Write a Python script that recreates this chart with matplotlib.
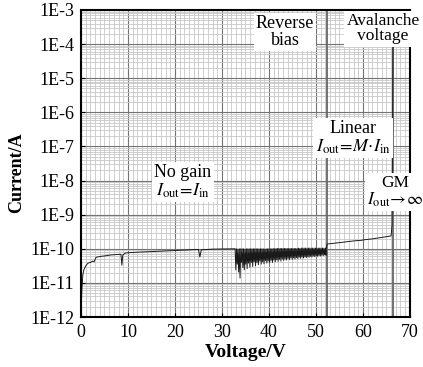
import numpy as np
import matplotlib
matplotlib.use("Agg")
import matplotlib.pyplot as plt
from matplotlib.ticker import FixedLocator, MultipleLocator, LogLocator, NullFormatter

plt.rcParams['font.family'] = ['Liberation Serif', 'DejaVu Serif']
plt.rcParams['mathtext.fontset'] = 'stix'

# I-V curve, current stored as log10(I / A)
base_v = [0.0, 0.1, 0.2, 0.4, 0.6, 1.0, 1.5, 2.0, 2.5, 2.8, 3.2, 3.6, 4.3, 5.0, 6.4,
          7.5, 8.5, 8.7, 8.9, 9.5, 12.0, 16.8, 20.0, 25.0, 25.3, 25.6, 28.0, 31.7, 32.7]
base_exp = [-12.0, -11.5, -11.15, -10.75, -10.62, -10.5, -10.42, -10.40, -10.36, -10.38,
            -10.25, -10.24, -10.22, -10.21, -10.18, -10.17, -10.16, -10.48, -10.18, -10.12,
            -10.10, -10.07, -10.05, -10.02, -10.24, -10.03, -10.01, -10.0, -10.0]

# noisy part between 33 V and 52 V
spike_v = [32.8, 33.1, 33.4, 33.7, 34.0, 34.3, 34.6, 34.9, 35.2, 35.5, 35.8, 36.1, 36.4,
           36.7, 37.0, 37.3, 37.6, 37.9, 38.2, 38.5, 38.8, 39.1, 39.4, 39.7, 40.0, 40.3,
           40.6, 40.9, 41.2, 41.5, 41.8, 42.1, 42.4, 42.7, 43.0, 43.3, 43.6, 43.9, 44.2,
           44.5, 44.8, 45.1, 45.4, 45.7, 46.0, 46.3, 46.6, 46.9, 47.2, 47.5, 47.8, 48.1,
           48.4, 48.7, 49.0, 49.3, 49.6, 49.9, 50.2, 50.5, 50.8, 51.1, 51.4, 51.7, 52.0]
spike_top = [-10.00, -10.00, -10.01, -10.00, -10.00, -10.00, -10.00, -10.01, -10.00, -10.00,
             -10.00, -10.00, -10.00, -10.00, -10.00, -10.00, -10.00, -10.00, -10.00, -10.00,
             -10.00, -10.01, -10.00, -10.00, -10.00, -10.00, -10.00, -9.99, -10.00, -9.99,
             -9.99, -9.99, -9.99, -9.99, -9.99, -9.99, -9.99, -9.99, -9.99, -9.99,
             -9.99, -9.99, -9.99, -9.99, -9.99, -9.98, -9.99, -9.98, -9.98, -9.98,
             -9.98, -9.98, -9.98, -9.98, -9.98, -9.98, -9.98, -9.98, -9.98, -9.98,
             -9.98, -9.98, -9.98, -9.98, -9.98]
spike_low = [-10.62, -10.45, -10.68, -10.86, -10.40, -10.55, -10.62, -10.45, -10.58, -10.42,
             -10.54, -10.40, -10.52, -10.38, -10.50, -10.40, -10.47, -10.36, -10.45, -10.38,
             -10.44, -10.35, -10.42, -10.36, -10.41, -10.34, -10.40, -10.33, -10.38, -10.32,
             -10.37, -10.31, -10.36, -10.30, -10.34, -10.30, -10.33, -10.28, -10.32, -10.27,
             -10.31, -10.27, -10.30, -10.26, -10.29, -10.25, -10.28, -10.24, -10.27, -10.24,
             -10.26, -10.23, -10.25, -10.22, -10.24, -10.21, -10.23, -10.21, -10.22, -10.20,
             -10.21, -10.19, -10.20, -10.18, -10.19]

tail_v = [52.2, 52.4, 55.0, 58.0, 59.8, 60.0, 62.0, 65.7, 66.0, 66.2, 66.3, 66.4]
tail_exp = [-9.98, -9.86, -9.82, -9.77, -9.75, -9.74, -9.71, -9.63, -9.62, -9.3, -7.0, -4.1]

region_edges = [52.3, 66.5]
yticks = [1e-12, 1e-11, 1e-10, 1e-9, 1e-8, 1e-7, 1e-6, 1e-5, 1e-4, 1e-3]
ylabels = ['1E-12', '1E-11', '1E-10', '1E-9', '1E-8', '1E-7', '1E-6', '1E-5', '1E-4', '1E-3']

# stitch the curve together
v = list(base_v)
e = list(base_exp)
for sv, st, sl in zip(spike_v, spike_top, spike_low):
    v += [sv, sv + 0.15]
    e += [st, sl]
v += tail_v
e += tail_exp
current = 10 ** np.array(e)

fig = plt.figure(figsize=(4.23, 3.67), dpi=100)
ax = fig.add_axes([0.1915, 0.1362, 0.7775, 0.8366])

ax.set_yscale('log')
ax.set_xlim(0, 70)
ax.set_ylim(1e-12, 1e-3)

ax.xaxis.set_major_locator(MultipleLocator(10))
ax.xaxis.set_minor_locator(MultipleLocator(1))
ax.yaxis.set_major_locator(FixedLocator(yticks))
ax.set_yticklabels(ylabels)
ax.yaxis.set_minor_locator(LogLocator(base=10, subs=np.arange(2, 10), numticks=100))
ax.yaxis.set_minor_formatter(NullFormatter())

ax.grid(which='minor', color='0.78', lw=0.6)
ax.grid(which='major', color='0.45', lw=0.8)
ax.set_axisbelow(True)
for x in region_edges:
    ax.axvline(x, color='0.4', lw=1.3, zorder=1)

ax.plot(v, current, color='0.1', lw=0.7, zorder=2)

ax.tick_params(which='major', direction='in', length=3, labelsize=13, pad=5)
ax.tick_params(which='minor', length=0)
for s in ax.spines.values():
    s.set_linewidth(1.5)

ax.set_xlabel('Voltage/V', fontsize=14, fontweight='bold', labelpad=2)
ax.set_ylabel('Current/A', fontsize=13, fontweight='bold')
ax.yaxis.set_label_coords(-0.17, 0.47)

box = dict(facecolor='white', edgecolor='none', pad=1.5)
ax.text(43.4, 10 ** -3.65, 'Reverse\nbias', fontsize=13, ha='center', va='center',
        linespacing=0.95, bbox=box)
ax.text(64.3, 10 ** -3.55, 'Avalanche\nvoltage', fontsize=12.5, ha='center', va='center',
        linespacing=0.95, bbox=box)
ax.text(21.7, 10 ** -8.04, 'No gain\n$I_{\\rm out}\\!=\\!I_{\\rm in}$', fontsize=13,
        ha='center', va='center', linespacing=1.0, bbox=box)
ax.text(57.9, 10 ** -6.75, 'Linear\n$I_{\\rm out}\\!=\\!M\\!\\cdot\\! I_{\\rm in}$', fontsize=13,
        ha='center', va='center', linespacing=1.0, bbox=box)
ax.text(66.9, 10 ** -8.34, 'GM\n$I_{\\rm out}\\!\\rightarrow\\!\\infty$', fontsize=12.5,
        ha='center', va='center', linespacing=1.0, bbox=box)

fig.savefig('out.png', dpi=100)
